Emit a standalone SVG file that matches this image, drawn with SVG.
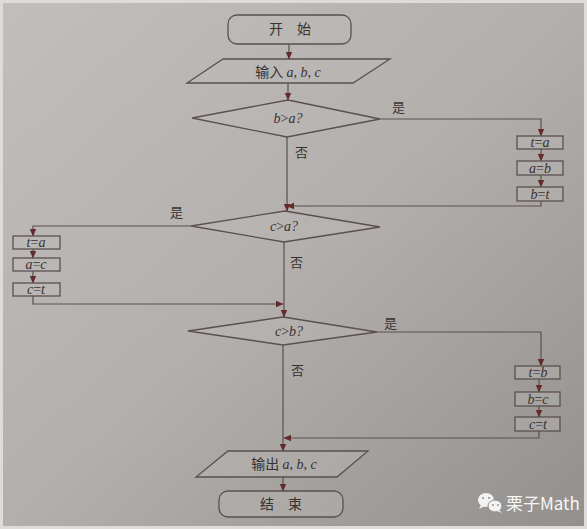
<svg xmlns="http://www.w3.org/2000/svg" width="587" height="529" viewBox="0 0 587 529">
<defs>
<linearGradient id="bg" x1="0" y1="0" x2="1" y2="1">
<stop offset="0" stop-color="#c2bebd"/>
<stop offset="0.5" stop-color="#b3afad"/>
<stop offset="1" stop-color="#938f8c"/>
</linearGradient>
<marker id="ah" markerUnits="userSpaceOnUse" markerWidth="8" markerHeight="8" viewBox="0 0 8 8" refX="7" refY="4" orient="auto">
<path d="M0,0.8 L7.5,4 L0,7.2 Z" fill="#642a2c"/>
</marker>
<style>
.n{fill:#bdb9b7;fill-opacity:0.35;stroke:#5a5050;stroke-width:1.3}
.c{fill:none;stroke:#5a5050;stroke-width:1.2}
.a{marker-end:url(#ah)}
.cn{font-family:"Noto Sans CJK SC",sans-serif;font-size:14px;fill:#383232}
.v{font-family:"Liberation Serif",serif;font-style:italic;font-size:14px;fill:#383232}
.vs{font-family:"Liberation Serif",serif;font-style:italic;font-size:14px;fill:#383232}
.up{font-style:normal}
.lb{font-family:"Noto Sans CJK SC",sans-serif;font-size:13px;fill:#383232}
</style>
</defs>
<rect x="0" y="0" width="587" height="529" fill="url(#bg)"/>
<rect x="1.5" y="1.5" width="584" height="526" fill="none" stroke="#dedcdb" stroke-width="3"/>

<g id="connectors">
<path class="c a" d="M289,44 V59"/>
<path class="c a" d="M288,83 V100"/>
<path class="c a" d="M380,119 H541 V136"/>
<path class="c a" d="M541,149 V161"/>
<path class="c a" d="M541,175 V187"/>
<path class="c a" d="M541,201 V206 H287"/>
<path class="c a" d="M287,137 V211"/>
<path class="c a" d="M191,226 H33 V236"/>
<path class="c a" d="M33,249 V258"/>
<path class="c a" d="M33,271 V283"/>
<path class="c a" d="M33,296 V304 H283"/>
<path class="c a" d="M284,242 V317"/>
<path class="c a" d="M377,332 H541 V366"/>
<path class="c a" d="M539,379 V392"/>
<path class="c a" d="M539,406 V417"/>
<path class="c a" d="M539,431 V438 H284"/>
<path class="c a" d="M283,345 V451"/>
<path class="c a" d="M283,477 V491"/>
<text class="lb" x="392" y="112">是</text>
<text class="lb" x="295" y="157">否</text>
<text class="lb" x="170" y="217">是</text>
<text class="lb" x="290" y="267">否</text>
<text class="lb" x="384" y="328">是</text>
<text class="lb" x="291" y="375">否</text>
</g>

<g id="start">
<rect class="n" x="228" y="15" width="123" height="29" rx="9"/>
<text class="cn" x="290" y="34" text-anchor="middle">开　始</text>
</g>
<g id="input">
<path class="n" d="M223,59 H390 L353,83 H187 Z"/>
<text x="288" y="77" text-anchor="middle"><tspan class="cn">输入 </tspan><tspan class="v">a</tspan><tspan class="v up">, </tspan><tspan class="v">b</tspan><tspan class="v up">, </tspan><tspan class="v">c</tspan></text>
</g>
<g id="d1">
<path class="n" d="M288,100 L380,119 L287,137 L192,118 Z"/>
<text class="v" x="288" y="123" text-anchor="middle">b<tspan class="up">&gt;</tspan>a?</text>
</g>
<g id="s1">
<rect class="n" x="517" y="136" width="46" height="13"/>
<text class="vs" x="540" y="147" text-anchor="middle">t<tspan class="up">=</tspan>a</text>
</g>
<g id="s2">
<rect class="n" x="517" y="161" width="46" height="14"/>
<text class="vs" x="540" y="172.5" text-anchor="middle">a<tspan class="up">=</tspan>b</text>
</g>
<g id="s3">
<rect class="n" x="517" y="187" width="46" height="14"/>
<text class="vs" x="540" y="198.5" text-anchor="middle">b<tspan class="up">=</tspan>t</text>
</g>
<g id="d2">
<path class="n" d="M285,211 L380,227 L284,242 L191,226 Z"/>
<text class="v" x="284" y="231" text-anchor="middle">c<tspan class="up">&gt;</tspan>a?</text>
</g>
<g id="s4">
<rect class="n" x="13" y="236" width="47" height="13"/>
<text class="vs" x="36" y="247" text-anchor="middle">t<tspan class="up">=</tspan>a</text>
</g>
<g id="s5">
<rect class="n" x="13" y="258" width="47" height="13"/>
<text class="vs" x="36" y="269" text-anchor="middle">a<tspan class="up">=</tspan>c</text>
</g>
<g id="s6">
<rect class="n" x="13" y="283" width="47" height="13"/>
<text class="vs" x="36" y="294" text-anchor="middle">c<tspan class="up">=</tspan>t</text>
</g>
<g id="d3">
<path class="n" d="M283,317 L377,332 L283,345 L188,331 Z"/>
<text class="v" x="289" y="336" text-anchor="middle">c<tspan class="up">&gt;</tspan>b?</text>
</g>
<g id="s7">
<rect class="n" x="515" y="366" width="45" height="13"/>
<text class="vs" x="538" y="377" text-anchor="middle">t<tspan class="up">=</tspan>b</text>
</g>
<g id="s8">
<rect class="n" x="515" y="392" width="45" height="14"/>
<text class="vs" x="538" y="403.5" text-anchor="middle">b<tspan class="up">=</tspan>c</text>
</g>
<g id="s9">
<rect class="n" x="515" y="417" width="45" height="14"/>
<text class="vs" x="538" y="428.5" text-anchor="middle">c<tspan class="up">=</tspan>t</text>
</g>
<g id="output">
<path class="n" d="M228,451 H368 L337,477 H196 Z"/>
<text x="284" y="469" text-anchor="middle"><tspan class="cn">输出 </tspan><tspan class="v">a</tspan><tspan class="v up">, </tspan><tspan class="v">b</tspan><tspan class="v up">, </tspan><tspan class="v">c</tspan></text>
</g>
<g id="end">
<rect class="n" x="219" y="491" width="124" height="26" rx="9"/>
<text class="cn" x="281" y="509" text-anchor="middle">结　束</text>
</g>

<g id="watermark">
<ellipse cx="486" cy="500" rx="8" ry="7" fill="#f2f2f2"/>
<path d="M481,505 L479,509 L485,506 Z" fill="#f2f2f2"/>
<ellipse cx="495" cy="506" rx="7" ry="6" fill="#f2f2f2" stroke="#8f8b88" stroke-width="1"/>
<path d="M499,510 L502,513 L497,511 Z" fill="#f2f2f2"/>
<circle cx="483" cy="498" r="1" fill="#8f8b88"/>
<circle cx="489" cy="498" r="1" fill="#8f8b88"/>
<circle cx="493" cy="505" r="0.9" fill="#8f8b88"/>
<circle cx="498" cy="505" r="0.9" fill="#8f8b88"/>
<text x="506" y="510" font-family="'Noto Sans CJK SC',sans-serif" font-size="17" fill="#f6f6f6">栗子Math</text>
</g>
</svg>
